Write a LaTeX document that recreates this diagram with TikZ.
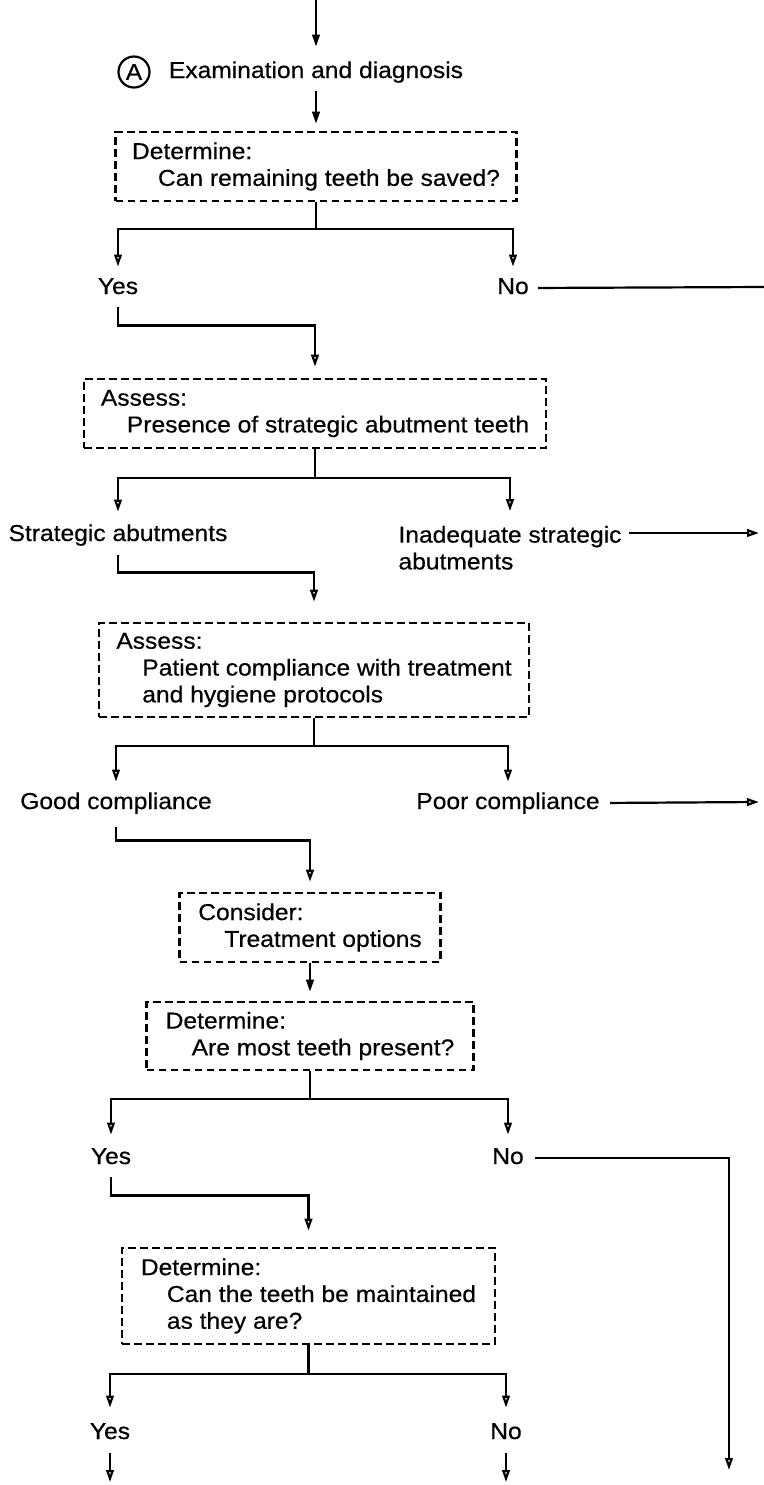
\documentclass[tikz,border=0pt]{standalone}
\usepackage{fontspec}
\setmainfont{Liberation Sans}[FakeStretch=1.07,FakeBold=0.5]
\usetikzlibrary{arrows.meta}

\tikzset{
  checkbox/.style={draw, line width=1.3pt, dash pattern=on 3.8pt off 2.2pt, align=left,
    inner xsep=8pt, inner ysep=4pt},
  answer/.style={inner sep=0pt, text height=8.5pt, text depth=2.5pt, align=left},
  lead/.style={line width=1.1pt, -{Triangle[length=6pt,width=3.8pt]}},
  link/.style={line width=1.1pt, -{Triangle[open,length=6pt,width=3.8pt]}, shorten >=5pt},
  plain/.style={line width=1.1pt},
}
\newcommand{\qind}{\hspace*{13pt}}

\begin{document}
\begin{tikzpicture}[x=0.5pt, y=-0.5pt, font=\fontsize{11.5pt}{13.4pt}\selectfont]
    \useasboundingbox (0,0) rectangle (764,1485);

    % Entry: examination
    \coordinate (top) at (316,0);
    \node[answer] (exam) at (316,72) {Examination and diagnosis};
    \node[circle, draw, line width=1.1pt, inner sep=0pt, minimum size=15.5pt] (circA) at (134,72) {A};
    \draw[lead, shorten >=7pt] (top) -- (exam.north);

    % First decision: can teeth be saved
    \node[checkbox, minimum width=200.5pt, minimum height=34.5pt] (saved) at (316,166.5)
        {Determine:\\\qind Can remaining teeth be saved?};
    \draw[lead, shorten <=4pt, shorten >=3.5pt] (exam.south) -- (saved.north);

    \node[answer] (yes1) at (118,288) {Yes};
    \node[answer] (no1) at (513,288) {No};
    \coordinate (exit1) at (764,287);
    \draw[link] (saved.south) -- ++(0,27) -| (yes1.north);
    \draw[link] (saved.south) -- ++(0,27) -| (no1.north);
    \draw[plain, shorten <=4.5pt] (no1.east) -- (exit1);

    % Strategic abutments
    \node[checkbox, minimum width=231pt, minimum height=34.5pt] (abut) at (315,413.5)
        {Assess:\\\qind Presence of strategic abutment teeth};
    \draw[link, shorten <=4pt, shorten >=5.5pt] (yes1.south) -- ++(0,26) -| (abut.north);

    \node[answer] (strat) at (118,535) {Strategic abutments};
    \node[answer, text height=21.9pt] (inadeq) at (510,550) {Inadequate strategic\\abutments};
    \coordinate (out1) at (759,533);
    \draw[link, shorten >=6pt] (abut.south) -- ++(0,29) -| (strat.north);
    \draw[link, shorten >=7pt] (abut.south) -- ++(0,29) -| (inadeq.north);
    \draw[link, shorten <=3.5pt, shorten >=0pt] (inadeq.east |- out1) -- (out1);

    % Compliance
    \node[checkbox, minimum width=215pt, minimum height=47pt] (comply) at (314,670)
        {Assess:\\\qind Patient compliance with treatment\\\qind and hygiene protocols};
    \draw[link, shorten <=4.5pt, shorten >=10pt] (strat.south) -- ++(0,26) -| (comply.north);

    \node[answer] (good) at (116,803) {Good compliance};
    \node[answer] (poor) at (508,803) {Poor compliance};
    \coordinate (out2) at (759,802);
    \draw[link] (comply.south) -- ++(0,28) -| (good.north);
    \draw[link] (comply.south) -- ++(0,28) -| (poor.north);
    \draw[link, shorten <=5pt, shorten >=0pt] (poor.east) -- (out2);

    % Treatment options
    \node[checkbox, minimum width=130.5pt, minimum height=34.5pt] (options) at (310,927.5)
        {Consider:\\\qind Treatment options};
    \draw[link, shorten <=6.5pt] (good.south) -- ++(0,26) -| (options.north);

    \node[checkbox, minimum width=163.5pt, minimum height=34pt] (most) at (310,1036)
        {Determine:\\\qind Are most teeth present?};
    \draw[lead, shorten >=4.5pt] (options.south) -- (most.north);

    \node[answer] (yes2) at (111,1158) {Yes};
    \node[answer] (no2) at (508,1158) {No};
    \coordinate (end2) at (729,1470);
    \draw[link, shorten >=6pt] (most.south) -- ++(0,28) -| (yes2.north);
    \draw[link, shorten >=6pt] (most.south) -- ++(0,28) -| (no2.north);
    \draw[link, shorten <=5.5pt, shorten >=0pt] (no2.east) -| (end2);

    % Maintain as they are
    \node[checkbox, minimum width=186.5pt, minimum height=48pt] (keep) at (308.5,1296)
        {Determine:\\\qind Can the teeth be maintained\\\qind as they are?};
    \draw[link, shorten <=4pt, shorten >=8pt] (yes2.south) -- ++(0,26) -| (keep.north);

    \node[answer] (yes3) at (110,1433) {Yes};
    \node[answer] (no3) at (506,1433) {No};
    \coordinate (end3) at (110,1482);
    \coordinate (end4) at (506,1482);
    \draw[link, shorten >=7pt] (keep.south) -- ++(0,29) -| (yes3.north);
    \draw[link, shorten >=7pt] (keep.south) -- ++(0,29) -| (no3.north);
    \draw[link, shorten <=4.5pt, shorten >=0pt] (yes3.south) -- (end3);
    \draw[link, shorten <=4.5pt, shorten >=0pt] (no3.south) -- (end4);

\end{tikzpicture}
\end{document}
